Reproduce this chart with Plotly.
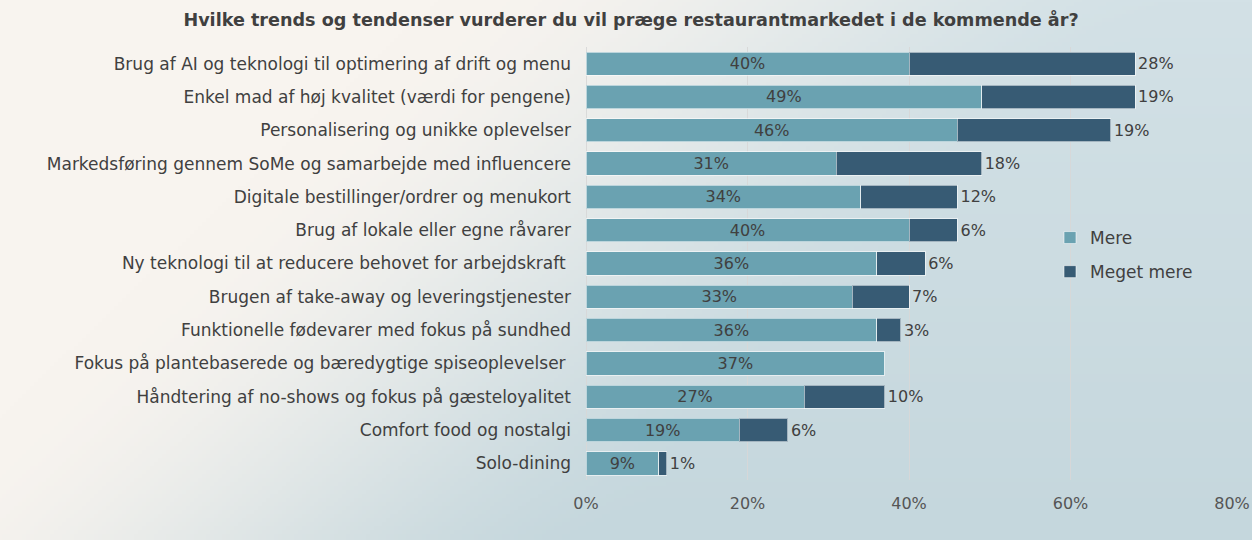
import base64
import struct
import zlib

import numpy as np
import plotly.graph_objects as go

# data
categories = [
    "Brug af AI og teknologi til optimering af drift og menu",
    "Enkel mad af høj kvalitet (værdi for pengene)",
    "Personalisering og unikke oplevelser",
    "Markedsføring gennem SoMe og samarbejde med influencere",
    "Digitale bestillinger/ordrer og menukort",
    "Brug af lokale eller egne råvarer",
    "Ny teknologi til at reducere behovet for arbejdskraft\u00a0",
    "Brugen af take-away og leveringstjenester",
    "Funktionelle fødevarer med fokus på sundhed",
    "Fokus på plantebaserede og bæredygtige spiseoplevelser\u00a0",
    "Håndtering af no-shows og fokus på gæsteloyalitet",
    "Comfort food og nostalgi",
    "Solo-dining",
]
mere = [40, 49, 46, 31, 34, 40, 36, 33, 36, 37, 27, 19, 9]
meget_mere = [28, 19, 19, 18, 12, 6, 6, 7, 3, 0, 10, 6, 1]

W, H = 1252, 540
M_L, M_R, M_T, M_B = 586, 20, 47, 60
FONT = "DejaVu Sans"


## soft background gradient (beige top-left -> light blue right/bottom)
def gradient_png(w, h):
    u = np.linspace(0, 1, w)[None, :]
    v = np.linspace(0, 1, h)[:, None]
    t = np.clip((u + 0.45 * v - 0.35) / 0.6, 0, 1)
    t = t * t * (3 - 2 * t)
    beige = np.array([248, 244, 239])
    blue_top = np.array([211, 225, 230])
    blue_bot = np.array([197, 215, 221])
    blue = blue_top[None, None, :] * (1 - v[..., None]) + blue_bot[None, None, :] * v[..., None]
    img = beige[None, None, :] * (1 - t[..., None]) + blue * t[..., None]
    img = img.astype(np.uint8)
    raw = b"".join(b"\x00" + row.tobytes() for row in img)

    def chunk(tag, data):
        c = struct.pack(">I", len(data)) + tag + data
        return c + struct.pack(">I", zlib.crc32(tag + data) & 0xFFFFFFFF)

    png = b"\x89PNG\r\n\x1a\n"
    png += chunk(b"IHDR", struct.pack(">IIBBBBB", w, h, 8, 2, 0, 0, 0))
    png += chunk(b"IDAT", zlib.compress(raw, 9))
    png += chunk(b"IEND", b"")
    return "data:image/png;base64," + base64.b64encode(png).decode()


x_mere = [v / 100 for v in mere]
x_meget = [v / 100 for v in meget_mere]

fig = go.Figure(data=[
    go.Bar(y=categories, x=x_mere, orientation="h", name="Mere",
           marker=dict(color="#6aa2b1", line=dict(color="rgba(255,255,255,0.55)", width=1)),
           text=[f"{v}%" for v in mere], textposition="inside", insidetextanchor="middle",
           textfont=dict(color="#404040", size=16), constraintext="none",
           legendgroup="a", hoverinfo="x+y"),
    go.Bar(y=categories, x=x_meget, orientation="h", name="Meget mere",
           marker=dict(color="#375b74", line=dict(color="rgba(255,255,255,0.55)", width=1)),
           text=[f"{v}%" if v > 0 else "" for v in meget_mere], textposition="outside",
           textfont=dict(color="#404040", size=16), constraintext="none", cliponaxis=False,
           legendgroup="b", hoverinfo="x+y"),
])

pw = W - M_L - M_R
ph = H - M_T - M_B

fig.update_layout(
    width=W, height=H,
    margin=dict(l=M_L, r=M_R, t=M_T, b=M_B, autoexpand=False),
    barmode="stack", bargap=0.3,
    font=dict(family=FONT, size=16, color="#404040"),
    paper_bgcolor="#f8f4ef", plot_bgcolor="rgba(0,0,0,0)",
    title=dict(text="<b>Hvilke trends og tendenser vurderer du vil præge restaurantmarkedet i de kommende år?</b>",
               x=0.504, xanchor="center", y=1 - 20 / H, yanchor="middle",
               font=dict(size=17.6, color="#404040")),
    xaxis=dict(range=[0, 0.8], dtick=0.2, tickformat=".0%", showgrid=True, automargin=False,
               gridcolor="rgba(215,215,215,0.9)", gridwidth=1, zeroline=True,
               zerolinecolor="rgba(215,215,215,0.9)", zerolinewidth=1,
               tickfont=dict(size=16, color="#555555"), ticklabelstandoff=12, fixedrange=True),
    yaxis=dict(autorange="reversed", showgrid=False, ticklabelstandoff=14, automargin=False,
               tickfont=dict(size=17, color="#404040"), fixedrange=True),
    legend=dict(x=(1050 - M_L) / pw, xanchor="left", y=(ph - (220 - M_T)) / ph, yanchor="top",
                bgcolor="rgba(0,0,0,0)", font=dict(size=17, color="#404040"),
                traceorder="grouped", tracegroupgap=9, itemwidth=30),
    showlegend=True,
    images=[dict(source=gradient_png(313, 135), xref="paper", yref="paper",
                 x=-M_L / pw, y=1 + M_T / ph, sizex=W / pw, sizey=H / ph,
                 xanchor="left", yanchor="top", sizing="stretch", layer="below")],
)

fig.write_html("out.html", config={"displayModeBar": False},
               post_script="document.body.style.margin='0';")
